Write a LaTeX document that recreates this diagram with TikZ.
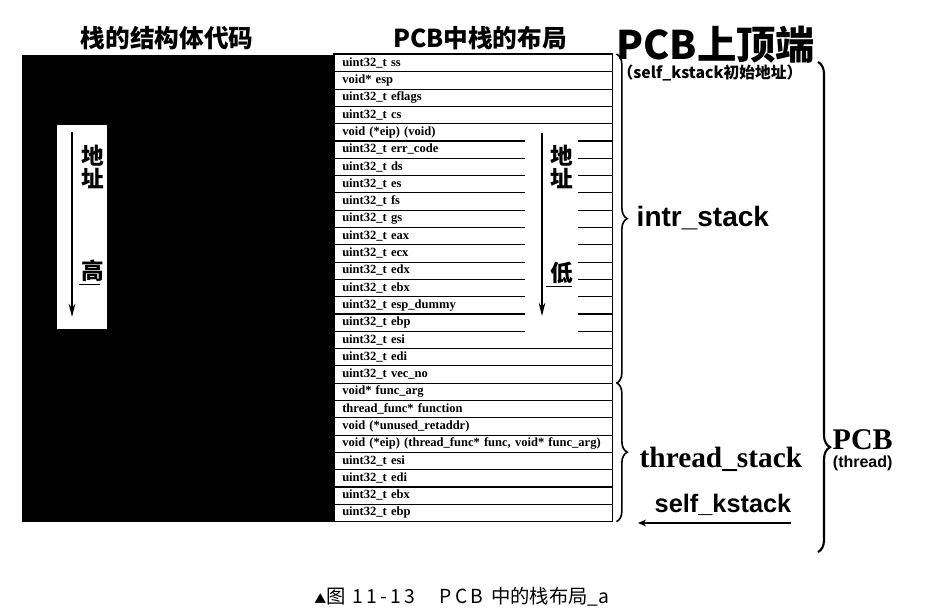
\documentclass[tikz,border=0pt]{standalone}
\usepackage{fontspec}
\setmainfont{Liberation Serif}
\newfontfamily\cjk{Noto Sans CJK SC}
\newfontfamily\arial{Liberation Sans}
\usepackage{tikz}
\usetikzlibrary{arrows.meta, positioning, calc, decorations.pathreplacing}

\begin{document}
\begin{tikzpicture}[x=0.75pt, y=-0.75pt,
    row/.style={anchor=north west, minimum height=12.97pt, text width=196.5pt, inner xsep=6pt, inner ysep=0pt, align=left, font=\bfseries\fontsize{9.4}{10}\selectfont},
    title/.style={font=\cjk\bfseries\fontsize{18.5}{20}\selectfont},
    addr/.style={line width=1.1pt, -{Stealth[length=10pt, width=5pt]}},
    mark char/.style={font=\cjk\bfseries\fontsize{17}{18}\selectfont},
    brc/.style={decorate, line width=1.2pt, decoration={brace, amplitude=8pt}},
    big label/.style={font=\arial\bfseries\fontsize{21}{23}\selectfont}
]
    % canvas
    \useasboundingbox (0,0) rectangle (928,613);

    % Titles
    \node[title] (codeTitle) at (167,38) {栈的结构体代码};
    \node[title] (pcbTitle) at (480,38) {PCB中栈的布局};

    % hidden struct code
    \fill[black] (22,55) rectangle (333,522);
    \fill[white] (57,125) rectangle (107,329);
    \coordinate (hiTop) at (72,132);
    \coordinate (hiBot) at (72,317);
    \draw[addr] (hiTop) -- (hiBot);
    \node[mark char] (hiA) at (93,156) {地};
    \node[mark char] (hiB) at (93,179) {址};
    \node[mark char] (hiC) at (93,271) {高};
    \draw[line width=1pt] (hiC.south west) ++(2,-2) -- ++(21,0);

    % Stack rows of the PCB
    \foreach \txt [count=\i from 0] in {uint32\_t ss, void* esp, uint32\_t eflags, uint32\_t cs,
        void (*eip) (void), uint32\_t err\_code, uint32\_t ds, uint32\_t es, uint32\_t fs,
        uint32\_t gs, uint32\_t eax, uint32\_t ecx, uint32\_t edx, uint32\_t ebx,
        uint32\_t esp\_dummy, uint32\_t ebp, uint32\_t esi, uint32\_t edi, uint32\_t vec\_no,
        void* func\_arg, thread\_func* function, void (*unused\_retaddr),
        {void (*eip) (thread\_func* func, void* func\_arg)},
        uint32\_t esi, uint32\_t edi, uint32\_t ebx, uint32\_t ebp}
        \node[row] (r\i) at (334,{54+17.3*\i}) {\txt};

    \draw[line width=0.9pt] (r0.north west) rectangle (r26.south east);
    \foreach \i in {0,...,3,16,17,...,25}
        \draw[line width=0.8pt] (r\i.south west) -- (r\i.south east);
    \foreach \i in {4,...,15} {
        \draw[line width=0.8pt] (r\i.south west) -- ++(191,0);
        \draw[line width=0.8pt] (r\i.south east) -- ++(-35,0);
    }

    % address direction inside the table
    \coordinate (loTop) at (542,133);
    \coordinate (loBot) at (542,316);
    \draw[addr] (loTop) -- (loBot);
    \node[mark char] (loA) at (562,156) {地};
    \node[mark char] (loB) at (562,179) {址};
    \node[mark char] (loC) at (562,273) {低};
    \draw[line width=1pt] (loC.south west) ++(0,-2) -- ++(26,0);

    % braces
    \draw[brc] (r0.north east) ++(4,0) -- ($(r18.south east)+(4,0)$);
    \draw[brc] (r19.north east) ++(4,0) -- ($(r26.south east)+(4,0)$);
    \coordinate (pcbTop) at (818,62);
    \coordinate (pcbBot) at (818,552);
    \draw[decorate, line width=1.6pt, decoration={brace, amplitude=9pt, aspect=0.786}] (pcbTop) -- (pcbBot);

    % labels
    \node[font=\cjk\bfseries\fontsize{29.5}{31}\selectfont, anchor=west] (pcbTopLbl) at (612,45) {PCB上顶端};
    \node[font=\cjk\bfseries\fontsize{11.8}{13}\selectfont, anchor=west] (initLbl) at (613,73) {（self\_kstack初始地址）};
    \node[big label, anchor=west] (intr) at (632,218) {intr\_stack};
    \node[font=\bfseries\fontsize{22}{24}\selectfont, anchor=west] (thread) at (635,459) {thread\_stack};
    \node[font=\arial\bfseries\fontsize{19}{21}\selectfont, anchor=west] (kstack) at (650,505) {self\_kstack};
    \coordinate (kstackEnd) at (791,523);
    \coordinate (kstackTip) at (638,523);
    \draw[line width=0.9pt, -{Stealth[length=6pt, width=5pt]}] (kstackEnd) -- (kstackTip);
    \node[font=\bfseries\fontsize{22.5}{24}\selectfont, anchor=west] (pcb) at (828,440) {PCB};
    \node[font=\arial\bfseries\fontsize{12}{13}\selectfont, below=-3pt of pcb] (pcbSub) {(thread)};

    % caption
    \node[font=\cjk\fontsize{14.5}{16}\selectfont] (caption) at (462,597) {{\fontsize{9}{10}\selectfont ▲}图\,\,1\,1\,-\,1\,3\hspace{1.3em}P\,C\,B\, 中的栈布局\_a};
\end{tikzpicture}
\end{document}
